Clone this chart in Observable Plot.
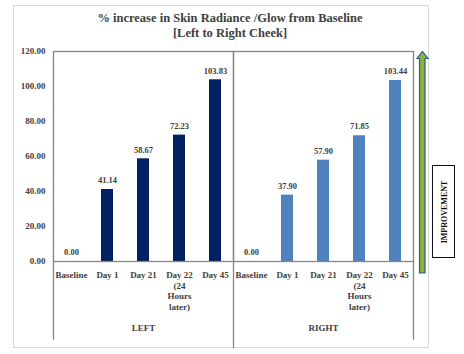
<!DOCTYPE html>
<html><head><meta charset="utf-8">
<script src="https://cdn.jsdelivr.net/npm/d3@7"></script>
<script src="https://cdn.jsdelivr.net/npm/@observablehq/plot@0.6"></script>
<style>
body{margin:0;background:#fff;}
#wrap{position:relative;width:464px;height:354px;font-family:"Liberation Serif","Times New Roman",serif;overflow:hidden;}
#border{position:absolute;left:13px;top:5px;width:416px;height:343px;border:1px solid #d9d9d9;box-sizing:border-box;}
#title{position:absolute;left:13px;width:434px;top:11px;text-align:center;font-weight:bold;font-size:12.5px;line-height:14.5px;color:#404040;}
#chart{position:absolute;left:0;top:0;}
#chart svg, #chart text{font-family:"Liberation Serif","Times New Roman",serif !important;}
#deco{position:absolute;left:0;top:0;}
#impr{position:absolute;left:432px;top:165px;width:23px;height:93px;border:1.6px solid #111;box-sizing:border-box;background:#fff;}
#impr span{position:absolute;left:50%;top:50%;transform:translate(-50%,-50%) rotate(-90deg);font-weight:bold;font-size:8px;color:#111;white-space:nowrap;}
</style>
</head><body>
<div id="wrap">
  <div id="border"></div>
  <div id="chart"></div>
  <div id="title">% increase in Skin Radiance /Glow from Baseline<br>[Left to Right Cheek]</div>
  <svg id="deco" width="464" height="354">
    <polygon points="422.5,51.5 428,58.5 425,58.5 425,273 419.5,273 419.5,58.5 417,58.5" fill="#8db33a" stroke="#2f5d8c" stroke-width="1.2"/>
  </svg>
  <div id="impr"><span>IMPROVEMENT</span></div>
</div>
<script>
const sides = ["LEFT", "RIGHT"];
const categories = ["Baseline", "Day 1", "Day 21", "Day 22\n(24\nHours\nlater)", "Day 45"];
const leftValues = [0.00, 41.14, 58.67, 72.23, 103.83];
const rightValues = [0.00, 37.90, 57.90, 71.85, 103.44];
const yTicks = [0, 20, 40, 60, 80, 100, 120];
const sideColors = ["#002060", "#4f81bd"];

const data = [
  ...categories.map((c, i) => ({side: "LEFT", cat: c, value: leftValues[i]})),
  ...categories.map((c, i) => ({side: "RIGHT", cat: c, value: rightValues[i]}))
];

const serif = "Liberation Serif, Times New Roman, serif";
const chart = Plot.plot({
  width: 464,
  height: 354,
  marginLeft: 53,
  marginRight: 51,
  marginTop: 51,
  marginBottom: 93,
  style: {fontFamily: serif, fontSize: "9px", fontWeight: "bold", color: "#404040", background: "transparent", overflow: "visible"},
  fx: {domain: sides, padding: 0, axis: null, label: null},
  x: {domain: categories, paddingInner: 0.68, paddingOuter: 0.34, axis: null, label: null},
  y: {domain: [0, 120], axis: null, label: null},
  color: {domain: sides, range: sideColors},
  marks: [
    Plot.barY(data, {fx: "side", x: "cat", y: "value", fill: "side"}),
    Plot.frame({stroke: "#858585", strokeWidth: 1.3}),
    Plot.ruleX(["LEFT"], {fx: d => d, x: () => categories[0], y1: 0, y2: -45, dx: -18, stroke: "#858585", strokeWidth: 1.3, clip: false}),
    Plot.ruleX(["RIGHT"], {fx: d => d, x: () => categories[0], y1: 0, y2: -50, dx: -18, stroke: "#858585", strokeWidth: 1.3, clip: false}),
    Plot.ruleX(["RIGHT"], {fx: d => d, x: () => categories[4], y1: 0, y2: -45, dx: 18, stroke: "#858585", strokeWidth: 1.3, clip: false}),
    Plot.text(data, {fx: "side", x: "cat", y: "value", text: d => d.value.toFixed(2), dy: -9, fill: "#404040", fontSize: 8.5, fontFamily: serif, fontWeight: "bold"}),
    Plot.axisX({tickSize: 0, tickPadding: 9, lineHeight: 1.17, fill: "#404040", fontSize: 9, fontFamily: serif, fontWeight: "bold", label: null}),
    Plot.axisY({ticks: yTicks, tickFormat: d => d.toFixed(2), tickSize: 0, tickPadding: 8, fill: "#404040", fontSize: 9, fontFamily: serif, fontWeight: "bold", label: null}),
    Plot.text(sides, {fx: d => d, text: d => d, frameAnchor: "bottom", dy: 69, fill: "#404040", fontSize: 9, fontFamily: serif, fontWeight: "bold"})
  ]
});
document.getElementById("chart").appendChild(chart);
</script>
</body></html>
